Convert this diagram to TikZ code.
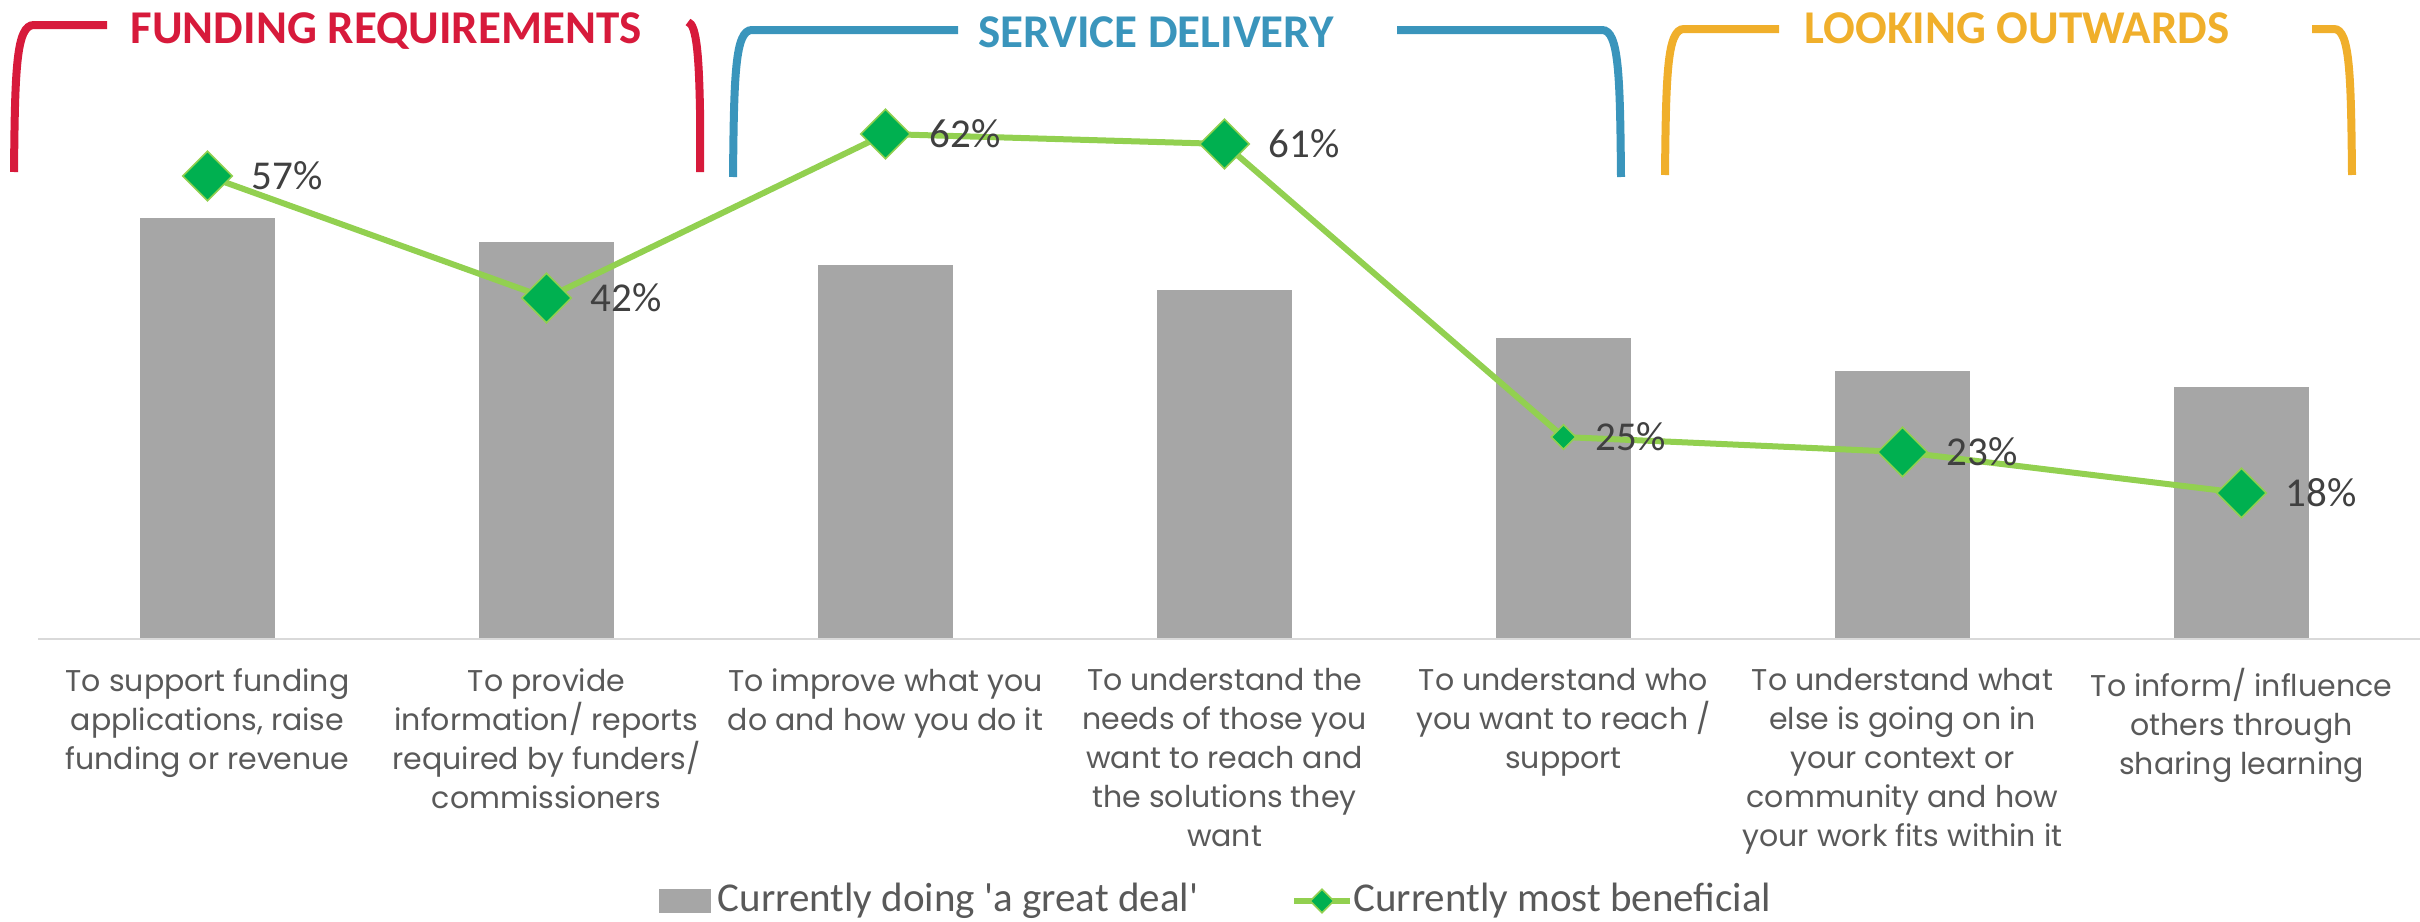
\documentclass[tikz,border=0pt]{standalone}
\usepackage{fontspec}
\setmainfont{Carlito}
\newfontfamily\catfont{Poppins}
\usetikzlibrary{shapes.geometric,positioning,backgrounds}
\definecolor{fundred}{HTML}{D71A3B}
\definecolor{servblue}{HTML}{3A95BC}
\definecolor{lookorange}{HTML}{F0AF2B}
\definecolor{trendgreen}{HTML}{92D050}
\definecolor{markgreen}{HTML}{00B050}
\definecolor{bargray}{HTML}{A6A6A6}
\definecolor{axisgray}{HTML}{D9D9D9}
\definecolor{labelgray}{HTML}{595959}
\definecolor{pctgray}{HTML}{404040}
\tikzset{
  brk/.style={line width=4pt},
  hdr/.style={font={\fontsize{23.5pt}{28pt}\selectfont\bfseries}, anchor=base, inner sep=0pt},
  bar/.style={fill=bargray},
  trend/.style={draw=trendgreen, line width=3pt, line join=round},
  mk/.style={diamond, draw=trendgreen, fill=markgreen, line width=0.8pt, inner sep=0pt, minimum size=25pt},
  pct/.style={font={\fontsize{20.5pt}{24pt}\selectfont}, text=pctgray, inner sep=0pt},
  cat/.style={font={\catfont\fontsize{15pt}{19.5pt}\selectfont}, text=labelgray, align=center, anchor=north, inner sep=0pt},
  legtext/.style={font={\fontsize{20.5pt}{24pt}\selectfont}, text=labelgray, inner sep=0pt}
}

\begin{document}
\begin{tikzpicture}[x=0.5pt, y=-0.5pt]
  \useasboundingbox (0,0) rectangle (2420,921);

  % group brackets
  \draw[brk, fundred] (14,172) .. controls (15,70) and (16,25) .. (34,25) -- (107,25);
  \draw[brk, fundred] (688,22) .. controls (697,24) and (699,60) .. (700,110) -- (700,172);
  \node[hdr, text=fundred] (hfund) at (386,43) {FUNDING REQUIREMENTS};

  \draw[brk, servblue] (733,177) .. controls (734,75) and (735,30) .. (752,30) -- (958,30);
  \draw[brk, servblue] (1397,30) -- (1602,30) .. controls (1619,30) and (1620,75) .. (1621,177);
  \node[hdr, text=servblue] (hserv) at (1156,47) {SERVICE DELIVERY};

  \draw[brk, lookorange] (1665,175) .. controls (1666,75) and (1667,29) .. (1684,29) -- (1779,29);
  \draw[brk, lookorange] (2312,29) -- (2334,29) .. controls (2350,29) and (2351,75) .. (2352,175);
  \node[hdr, text=lookorange] (hlook) at (2017,43) {LOOKING OUTWARDS};

  % axis
  \coordinate (ax0) at (38,639);
  \coordinate (ax1) at (2420,639);
  \draw[axisgray, line width=1.2pt] (ax0) -- (ax1);

  % most beneficial
  \foreach \i/\y/\v/\s in {1/176/57/25pt, 2/298/42/25pt, 3/134/62/25pt, 4/144/61/25pt,
                           5/437/25/12.5pt, 6/452/23/25pt, 7/493/18/25pt} {
    \node[mk, minimum size=\s] (d\i) at ({207.5+(\i-1)*339},\y) {};
    \node[pct, right=9pt of d\i.east] (l\i) {\v\%};
  }

  \begin{scope}[on background layer]
    % doing a great deal
    \foreach \i/\top in {1/218, 2/242, 3/265, 4/290, 5/338, 6/371, 7/387}
      \fill[bar] ({207.5+(\i-1)*339-67.5},638) rectangle ({207.5+(\i-1)*339+67.5},\top);
    \draw[trend] (d1.center) -- (d2.center) -- (d3.center) -- (d4.center)
      -- (d5.center) -- (d6.center) -- (d7.center);
  \end{scope}

  % categories
  \node[cat] (c1) at (207.5,668) {To support funding\\applications, raise\\funding or revenue};
  \node[cat] (c2) at (546.5,668) {To provide\\information/ reports\\required by funders/\\commissioners};
  \node[cat] (c3) at (885.5,668) {To improve what you\\do and how you do it};
  \node[cat] (c4) at (1224.5,668) {To understand the\\needs of those you\\want to reach and\\the solutions they\\want};
  \node[cat] (c5) at (1563.5,668) {To understand who\\you want to reach /\\support};
  \node[cat] (c6) at (1902.5,668) {To understand what\\else is going on in\\your context or\\community and how\\your work fits within it};
  \node[cat] (c7) at (2241.5,668) {To inform/ influence\\others through\\sharing learning};

  % legend
  \node[fill=bargray, minimum width=26pt, minimum height=12pt, inner sep=0pt] (lgbar) at (685,901) {};
  \node[legtext, right=3pt of lgbar] (lgbartxt) {Currently doing \textquotesingle a great deal\textquotesingle};
  \coordinate (lgl0) at (1294,901);
  \coordinate (lgl1) at (1350,901);
  \draw[trend] (lgl0) -- (lgl1);
  \node[mk, minimum size=12pt] (lgmk) at (1322,901) {};
  \node[legtext, right=1.5pt of lgl1] (lgtrendtxt) {Currently most beneficial};
\end{tikzpicture}
\end{document}
